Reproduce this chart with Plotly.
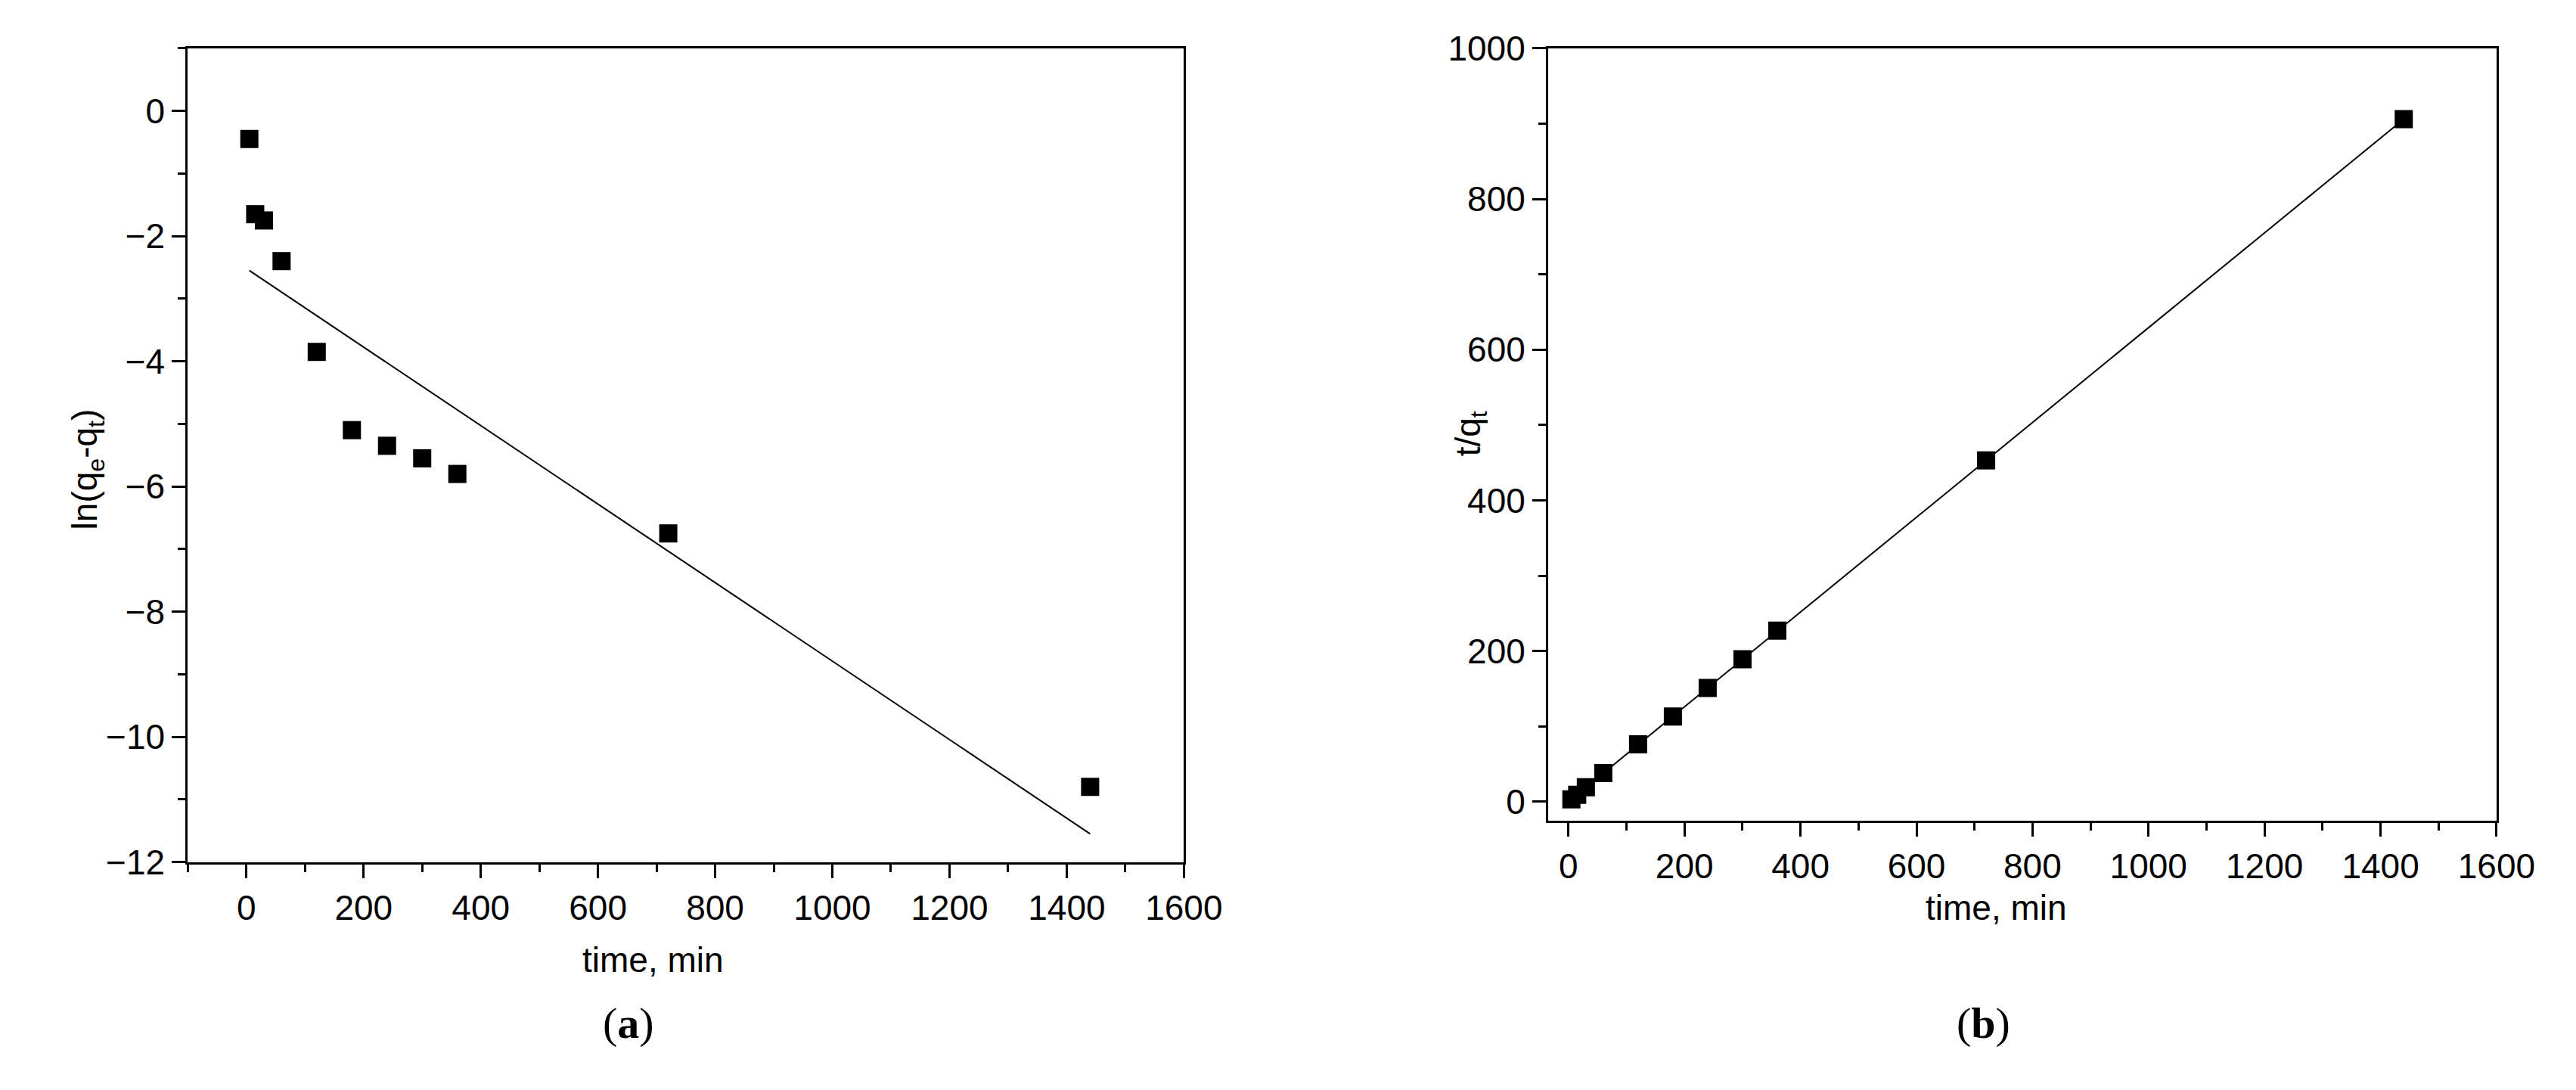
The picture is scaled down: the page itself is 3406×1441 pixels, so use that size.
import plotly.graph_objects as go

t = [5, 15, 30, 60, 120, 180, 240, 300, 360, 720, 1440]
ln_qe_qt = [-0.45, -1.65, -1.75, -2.4, -3.85, -5.1, -5.35, -5.55, -5.8, -6.75, -10.8]
fit_a_x = [5, 1440]
fit_a_y = [-2.55, -11.55]
t_over_qt = [3, 9, 19, 38, 76, 113, 151, 189, 227, 453, 906]
fit_b_x = [0, 1440]
fit_b_y = [0, 906]

W, H = 3406, 1441
def px(x): return x / W
def py(y): return 1 - y / H

fig = go.Figure()
mk = dict(symbol="square", size=24, color="black")
fig.add_trace(go.Scatter(x=fit_a_x, y=fit_a_y, mode="lines", line=dict(color="black", width=2), xaxis="x", yaxis="y"))
fig.add_trace(go.Scatter(x=t, y=ln_qe_qt, mode="markers", marker=mk, xaxis="x", yaxis="y"))
fig.add_trace(go.Scatter(x=fit_b_x, y=fit_b_y, mode="lines", line=dict(color="black", width=2), xaxis="x2", yaxis="y2"))
fig.add_trace(go.Scatter(x=t, y=t_over_qt, mode="markers", marker=mk, xaxis="x2", yaxis="y2"))

ax = dict(showgrid=False, zeroline=False, showline=True, linecolor="black", linewidth=3, mirror=True,
          ticks="outside", ticklen=18, tickwidth=3, tickcolor="black",
          tickfont=dict(family="Liberation Sans", size=46, color="black"),
          minor=dict(ticks="outside", ticklen=10, tickwidth=3, tickcolor="black"))

fig.update_layout(
    width=W, height=H, showlegend=False, plot_bgcolor="white", paper_bgcolor="white",
    margin=dict(l=0, r=0, t=0, b=0),
    xaxis=dict(ax, domain=[px(244), px(1581)], range=[-100, 1600], dtick=200, minor=dict(ax["minor"], dtick=100), anchor="y"),
    yaxis=dict(ax, domain=[py(1147), py(31)], range=[-12, 1], dtick=2, minor=dict(ax["minor"], dtick=1), anchor="x"),
    xaxis2=dict(ax, domain=[px(2070), px(3343)], range=[-35, 1600], dtick=200, minor=dict(ax["minor"], dtick=100), anchor="y2"),
    yaxis2=dict(ax, domain=[py(1090), py(31)], range=[-25, 1000], dtick=200, minor=dict(ax["minor"], dtick=100), anchor="x2"),
)

f = dict(family="Liberation Sans", size=46, color="black")
ann = [
    (869, 1281, "time, min", 0, f),
    (2672, 1210, "time, min", 0, f),
    (109, 608, "ln(q<sub>e</sub>-q<sub>t</sub>)", -90, f),
    (1966, 560, "t/q<sub>t</sub>", -90, f),
    (836, 1368, "(<b>a</b>)", 0, dict(family="Liberation Serif", size=58, color="black")),
    (2654, 1368, "(<b>b</b>)", 0, dict(family="Liberation Serif", size=58, color="black")),
]
for x, y, s, a, fo in ann:
    fig.add_annotation(x=px(x), y=py(y), xref="paper", yref="paper", text=s, textangle=a,
                       showarrow=False, font=fo, xanchor="center", yanchor="middle")

fig.write_html("out.html")
